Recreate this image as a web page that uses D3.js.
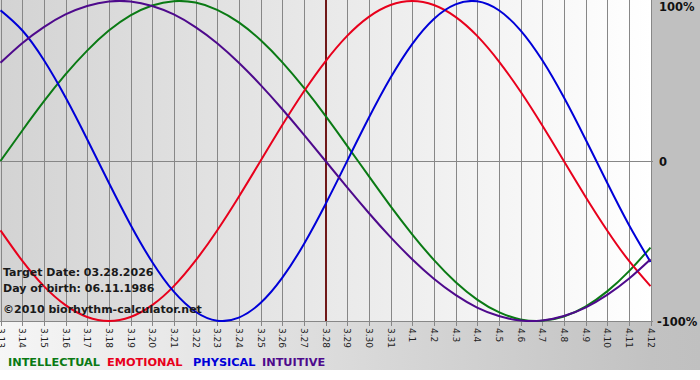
<!DOCTYPE html>
<html><head><meta charset="utf-8">
<script src="https://cdn.jsdelivr.net/npm/d3@7"></script>
<style>html,body{margin:0;padding:0;background:#fff}svg{display:block}</style>
</head><body>
<div id="chart"></div>
<script>
const dates = ["3.13","3.14","3.15","3.16","3.17","3.18","3.19","3.20","3.21","3.22","3.23","3.24","3.25","3.26","3.27","3.28","3.29","3.30","3.31","4.1","4.2","4.3","4.4","4.5","4.6","4.7","4.8","4.9","4.10","4.11","4.12"];
const targetDate = "3.28";
const intellectual = [0,0.189,0.372,0.541,0.690,0.815,0.910,0.972,0.999,0.990,0.945,0.866,0.756,0.618,0.458,0.282,0.095,-0.095,-0.282,-0.458,-0.618,-0.756,-0.866,-0.945,-0.990,-0.999,-0.972,-0.910,-0.815,-0.690,-0.541];
const emotional = [-0.434,-0.623,-0.782,-0.901,-0.975,-1,-0.975,-0.901,-0.782,-0.623,-0.434,-0.223,0,0.223,0.434,0.623,0.782,0.901,0.975,1,0.975,0.901,0.782,0.623,0.434,0.223,0,-0.223,-0.434,-0.623,-0.782];
const physical = [0.942,0.817,0.631,0.398,0.136,-0.136,-0.398,-0.631,-0.817,-0.942,-0.998,-0.979,-0.888,-0.731,-0.520,-0.270,0,0.270,0.520,0.731,0.888,0.979,0.998,0.942,0.817,0.631,0.398,0.136,-0.136,-0.398,-0.631];
const intuitive = [0.614,0.736,0.837,0.916,0.969,0.997,0.997,0.969,0.916,0.837,0.736,0.614,0.476,0.325,0.165,0,-0.165,-0.325,-0.476,-0.614,-0.736,-0.837,-0.916,-0.969,-0.997,-0.997,-0.969,-0.916,-0.837,-0.736,-0.614];
const seriesNames = ["INTELLECTUAL","EMOTIONAL","PHYSICAL","INTUITIVE"];
const seriesColors = ["#0a7a14","#e8001c","#0000d8","#4e0a8c"];
const yTickValues = [1,0,-1];
const yTickLabels = ["100%","0","-100%"];
const infoLines = ["Target Date: 03.28.2026","Day of birth: 06.11.1986","\u00A92010 biorhythm-calculator.net"];

const W = 700, H = 380;
const plotL = 0.5, plotR = 650.5, plotT = 1, plotB = 321;

const svg = d3.select("#chart").append("svg").attr("width", W).attr("height", H);
const defs = svg.append("defs");
const gOuter = defs.append("linearGradient").attr("id","outerGrad").attr("x1","0").attr("x2","1").attr("y1","0").attr("y2","0");
gOuter.append("stop").attr("offset","0").attr("stop-color","#f6f6f6");
gOuter.append("stop").attr("offset","0.93").attr("stop-color","#c2c2c2");
gOuter.append("stop").attr("offset","1").attr("stop-color","#c0c0c0");
const gPlot = defs.append("linearGradient").attr("id","plotGrad").attr("x1","0").attr("x2","1").attr("y1","0").attr("y2","0");
gPlot.append("stop").attr("offset","0").attr("stop-color","#d3d3d3");
gPlot.append("stop").attr("offset","1").attr("stop-color","#ffffff");
defs.append("clipPath").attr("id","plotClip").append("rect")
  .attr("x",0).attr("y",0).attr("width",651).attr("height",322);

// backgrounds
svg.append("rect").attr("x",0).attr("y",0).attr("width",W).attr("height",370).attr("fill","url(#outerGrad)");
svg.append("rect").attr("x",651).attr("y",0).attr("width",49).attr("height",322).attr("fill","#c0c0c0");
svg.append("rect").attr("x",0).attr("y",0).attr("width",651).attr("height",321).attr("fill","url(#plotGrad)");

const x = d3.scalePoint().domain(dates).range([plotL, plotR]);
const y = d3.scaleLinear().domain([-1,1]).range([plotB, plotT]);

// vertical grid lines + ticks
svg.append("g").selectAll("line").data(dates).join("line")
  .attr("x1", d => Math.round(x(d)) + 0.5).attr("x2", d => Math.round(x(d)) + 0.5)
  .attr("y1", 0).attr("y2", plotB + 5)
  .attr("stroke", "#878787").attr("stroke-width", 1);

// horizontal zero and bottom lines
svg.append("line").attr("x1",0).attr("x2",653).attr("y1",Math.round(y(0))+0.5).attr("y2",Math.round(y(0))+0.5)
  .attr("stroke","#878787");
svg.append("line").attr("x1",0).attr("x2",653).attr("y1",plotB+0.5).attr("y2",plotB+0.5)
  .attr("stroke","#878787");

// bottom axis labels (rotated)
svg.append("g").selectAll("text").data(dates).join("text")
  .attr("transform", d => `translate(${Math.round(x(d))+0.5},${plotB+7}) rotate(90)`)
  .attr("dy","0.35em")
  .attr("font-family","'DejaVu Sans', Verdana, sans-serif")
  .attr("font-size", 9)
  .attr("fill","#222")
  .text(d => d);

// right labels
svg.append("g").selectAll("text").data(yTickValues).join("text")
  .attr("x", (d,i) => i === 2 ? 657 : 659)
  .attr("y", d => y(d) + 4)
  .attr("dy", (d,i) => i === 0 ? "6" : "1")
  .attr("font-family","'DejaVu Sans', Verdana, sans-serif")
  .attr("font-weight","bold")
  .attr("font-size", 11.5)
  .attr("fill","#111")
  .text((d,i) => yTickLabels[i]);

// target date line
svg.append("line").attr("x1", x(targetDate)+0.5).attr("x2", x(targetDate)+0.5).attr("y1",0).attr("y2",plotB)
  .attr("stroke","#701818").attr("stroke-width",2);

// curves
const allSeries = [intellectual, emotional, physical, intuitive];
const line = d3.line().x((d,i) => x(dates[i])).y(d => y(d)).curve(d3.curveNatural);
const gLines = svg.append("g").attr("clip-path","url(#plotClip)");
allSeries.forEach((s, k) => {
  gLines.append("path").attr("d", line(s)).attr("fill","none")
    .attr("stroke", seriesColors[k]).attr("stroke-width", 2);
});

// info text
svg.append("g").selectAll("text").data(infoLines).join("text")
  .attr("x", 3)
  .attr("y", (d,i) => [276, 292, 313][i])
  .attr("font-family","'DejaVu Sans', Verdana, sans-serif")
  .attr("font-weight","bold")
  .attr("font-size", 11)
  .attr("fill","#1a1a1a")
  .text(d => d);

// legend
const legendX = [8, 107, 193, 262];
svg.append("g").selectAll("text").data(seriesNames).join("text")
  .attr("x", (d,i) => legendX[i])
  .attr("y", 366)
  .attr("font-family","'DejaVu Sans', Verdana, sans-serif")
  .attr("font-weight","bold")
  .attr("font-size", 11.3)
  .attr("fill", (d,i) => seriesColors[i])
  .text(d => d);
</script>
</body></html>
